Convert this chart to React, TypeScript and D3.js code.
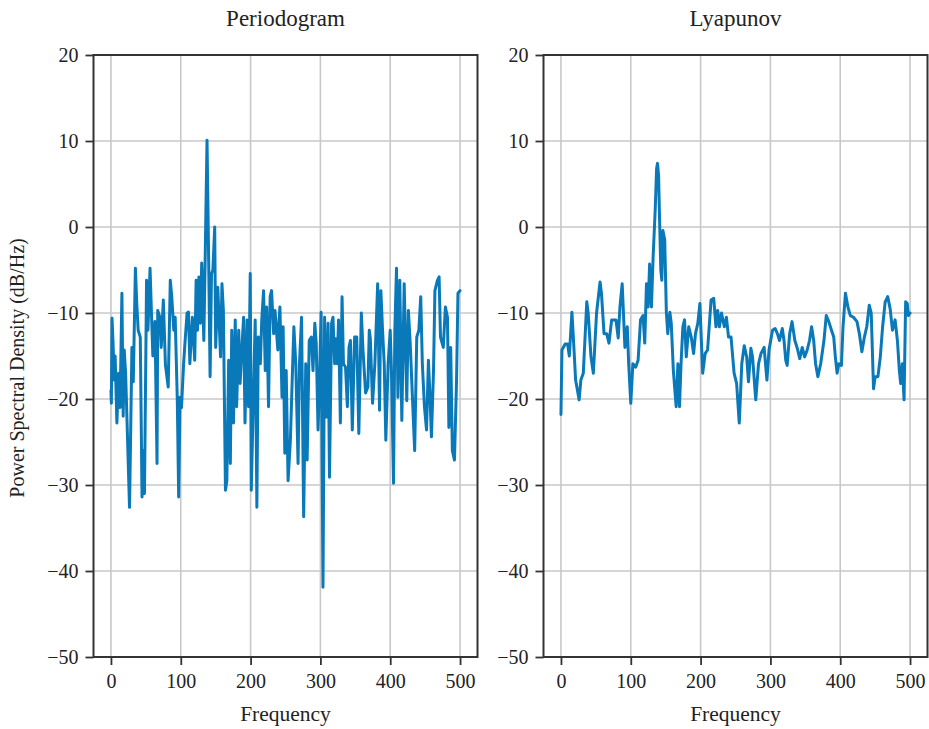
import React, { useEffect, useRef } from "react";
import * as d3 from "d3";

// Periodogram
const periodogramFreq = [0,0.6,1.5,3,4.5,6,8.5,11,13,15.7,17.5,19,21,23,26.6,28,30,32,35,37,39,42,44.5,46,48,51,53,56,58,60,63,66,67,70,72,75,78,82,85,87,90,92,95,97,99,101,104,106,109,111,113,116.6,120,122,124,126,128,130,133,135,137.6,140,142,144,146,148.6,150,153,157,159,161,164,166,168.6,171,173,175.5,178,180,183,185,187.6,190,192,195,197,199.5,201,204,206.6,209,211,214,216,218.6,221,223,225.7,228,230,233,235,239,240,242,245,246.6,249,251,253.7,257,260,262,264.7,268,270,273,276,279,281,284,287,289.4,292,294,296.6,298,301,303.7,306,308.6,311,313,316,318,320.4,322,324,326,328.6,331,333,336,338.6,341,343,345.7,349,352,355,358.6,361,364.7,368,370,371.5,374.7,378,382,384.7,386.6,389,391.4,393.7,397,400,402,404.7,406.6,409,411,413.7,416.6,420,423.7,426,428.6,432,435,438,441,443.7,446,449,452,454.7,457,459,462,464,467.6,470,472,476,479,482,484,486.6,489,492,495,497,500];
const periodogramPsd = [-19,-20.5,-10.6,-13.5,-17.8,-15,-22.8,-17,-21,-7.7,-22,-14.3,-17,-22.5,-32.6,-25.2,-14,-18,-4.8,-9,-12,-12.8,-31.4,-26,-31,-6.2,-12,-4.8,-10,-15,-11,-27.5,-9.7,-10.5,-14,-8.5,-16,-18.6,-6.2,-8,-12,-10.5,-20,-31.4,-19.8,-21,-16,-13.5,-10,-9.9,-15.9,-10.5,-15.5,-6.2,-12,-5.8,-11.2,-4.2,-13.2,-3.5,10.1,-4.2,-17.4,-5.4,-5,0,-14,-7,-15.1,-6.6,-9.7,-30.6,-29.5,-15.5,-27.5,-12,-22.8,-10.8,-20.9,-12,-18.2,-14,-10.5,-22.8,-10.8,-20.9,-5.4,-30.6,-19.8,-10.8,-32.6,-12.8,-15.9,-10.8,-7.4,-16.7,-9.3,-20.9,-8.1,-7.4,-12.4,-9.7,-14.3,-12,-9.3,-19.8,-11.6,-26.3,-16.7,-29.5,-24.8,-16.7,-11.6,-15.9,-27.5,-15.9,-10.5,-33.7,-15.9,-27.1,-13.2,-12.8,-16.7,-11.2,-13.5,-23.6,-20,-9.9,-41.9,-10.5,-22.1,-11.2,-29.1,-11.2,-10.5,-15.9,-13,-15.9,-10.8,-22.8,-8.1,-15.9,-16.3,-20.9,-14,-13.2,-23.6,-12.8,-12.8,-24,-10,-14.3,-19.3,-18.6,-12,-13,-20.5,-15.9,-6.6,-21.3,-7.4,-12,-15.9,-24.8,-15.9,-12,-17.4,-29.8,-12,-4.8,-19.8,-6.2,-22.5,-6.6,-20.2,-9.7,-13.5,-20.2,-26,-12.8,-12,-8.1,-15.9,-20.9,-23.6,-15.5,-19.8,-24.4,-16.7,-7.4,-6.2,-5.8,-12.8,-14,-9.3,-10.5,-23.3,-14,-26,-27.1,-17.8,-7.7,-7.4];

// Lyapunov
const lyapunovFreq = [0,1.4,6,9.5,12,15.7,18,21,26,28.5,32,37,39,43,46.4,51,56,58,61.7,65.5,68.8,72.6,78.8,82,84.5,87.7,91.6,95,97,100,103,107,110.5,114,117.6,120,122.5,124.8,127,129.6,132,135,137,138.3,139.8,141.5,143,144.5,146,148.6,151,153,156,158,161,165,167.5,169.8,172,174.6,177,179.5,183,186.6,190,192.7,196,199,203,206.6,210,215,218.8,222,224.5,227,230,234,237,240,243.6,248,251.6,255.4,259,262.5,266,268.6,272,274.4,279,283,286.6,291,295,298,303,306.7,310,313,317,319.5,322,324,327.6,331,335,338.5,342,345.6,349,352.7,356,359,362,364.7,368,372,376.7,380,383.6,387.5,390.7,393,395.5,398,401.7,404,407.5,411,414.5,419,424,427.4,431,434.6,438,441.6,444.4,447.7,450,454,457.4,460.7,464.4,468,471.5,474.8,478.6,481.9,484.7,486.6,489,491.4,493.7,496,497.6,500];
const lyapunovPsd = [-21.8,-14.3,-13.6,-13.6,-15,-9.9,-13.2,-17.8,-20.1,-17.8,-17,-8.7,-10,-15.1,-17,-10,-6.4,-7.7,-12.4,-12.4,-13.5,-10.8,-10.8,-12.9,-9.3,-6.6,-14,-11.6,-15.9,-20.5,-15.9,-16.3,-15.5,-10.8,-10.3,-13.5,-6.6,-9.3,-4.3,-9.3,-3.5,2,6.8,7.4,6,0,-5,-6.2,-0.4,-1.5,-10,-12.4,-9.9,-11.2,-16.7,-20.9,-15.9,-20.9,-15.9,-11.6,-10.8,-15.1,-11.6,-12.8,-14.7,-12.4,-11.2,-8.9,-17,-14.7,-14.3,-8.5,-8.3,-11.6,-9.7,-11.6,-10,-11.6,-10.5,-12.8,-12.8,-17,-18.2,-22.8,-15.9,-13.8,-15.1,-18,-14.1,-15.1,-20.1,-15.9,-14.7,-14,-17.8,-14.3,-12,-11.8,-12.4,-13.2,-11.8,-13.2,-15.5,-16.1,-12.4,-11,-13.2,-14.1,-15.3,-14,-15.1,-14.3,-13.2,-11.6,-13.2,-15.9,-17.4,-15.9,-13.2,-10.3,-11,-12,-12.8,-15.1,-17,-15.9,-16.1,-11.6,-7.7,-9.3,-10.3,-10.5,-11,-12.4,-14.5,-12.8,-11.6,-9.1,-10,-18.8,-17.4,-17.4,-15.1,-11.6,-8.7,-8.1,-9.5,-12,-10.8,-13.2,-16.7,-18.2,-15.9,-20.1,-8.7,-8.9,-10.3,-10];

const xTicks = [0, 100, 200, 300, 400, 500];
const yTicks = [-50, -40, -30, -20, -10, 0, 10, 20];

const width = 929;
const height = 729;
const top = 55;
const bottom = 657;
const lineColor = "#0a79b9";
const font = "'Liberation Serif', 'DejaVu Serif', serif";

const panels = [
  { title: "Periodogram", freq: periodogramFreq, psd: periodogramPsd, x0: 93.5, x1: 477.5 },
  { title: "Lyapunov", freq: lyapunovFreq, psd: lyapunovPsd, x0: 543.5, x1: 927.5 },
];

const App = () => {
  const ref = useRef<SVGSVGElement>(null);

  useEffect(() => {
    const svg = d3.select(ref.current);
    svg.selectAll("*").remove();

    panels.forEach((p) => {
      const x = d3.scaleLinear().domain([-25, 525]).range([p.x0, p.x1]);
      const y = d3.scaleLinear().domain([-50, 20]).range([bottom, top]);
      const g = svg.append("g");

      // grid
      g.append("g")
        .selectAll("line")
        .data(xTicks)
        .join("line")
        .attr("x1", (d) => x(d))
        .attr("x2", (d) => x(d))
        .attr("y1", top)
        .attr("y2", bottom)
        .attr("stroke", "#c8c8c8")
        .attr("stroke-width", 1.6);
      g.append("g")
        .selectAll("line")
        .data(yTicks)
        .join("line")
        .attr("x1", p.x0)
        .attr("x2", p.x1)
        .attr("y1", (d) => y(d))
        .attr("y2", (d) => y(d))
        .attr("stroke", "#c8c8c8")
        .attr("stroke-width", 1.6);

      // series
      const line = d3
        .line<number>()
        .x((_, i) => x(p.freq[i]))
        .y((d) => y(d));
      g.append("path")
        .datum(p.psd)
        .attr("d", line)
        .attr("fill", "none")
        .attr("stroke", lineColor)
        .attr("stroke-width", 3)
        .attr("stroke-linejoin", "round")
        .attr("stroke-linecap", "round");

      // axes
      const xAxis = g
        .append("g")
        .attr("transform", `translate(0,${bottom})`)
        .call(d3.axisBottom(x).tickValues(xTicks).tickSize(8).tickSizeOuter(0).tickPadding(9));
      const yAxis = g
        .append("g")
        .attr("transform", `translate(${p.x0},0)`)
        .call(d3.axisLeft(y).tickValues(yTicks).tickSize(8).tickSizeOuter(0).tickPadding(7));
      [xAxis, yAxis].forEach((a) => {
        a.select(".domain").remove();
        a.selectAll(".tick line").attr("stroke", "#333").attr("stroke-width", 1.8);
        a.selectAll(".tick text")
          .attr("fill", "#222")
          .style("font-family", font)
          .style("font-size", "20px");
      });

      // spines
      g.append("rect")
        .attr("x", p.x0)
        .attr("y", top)
        .attr("width", p.x1 - p.x0)
        .attr("height", bottom - top)
        .attr("fill", "none")
        .attr("stroke", "#333")
        .attr("stroke-width", 2);

      g.append("text")
        .attr("x", (p.x0 + p.x1) / 2)
        .attr("y", 26)
        .attr("text-anchor", "middle")
        .attr("fill", "#222")
        .style("font-family", font)
        .style("font-size", "23px")
        .text(p.title);

      g.append("text")
        .attr("x", (p.x0 + p.x1) / 2)
        .attr("y", 721)
        .attr("text-anchor", "middle")
        .attr("fill", "#222")
        .style("font-family", font)
        .style("font-size", "21.5px")
        .text("Frequency");
    });

    svg
      .append("text")
      .attr("transform", `translate(24,${(top + bottom) / 2 + 12}) rotate(-90)`)
      .attr("text-anchor", "middle")
      .attr("fill", "#222")
      .style("font-family", font)
      .style("font-size", "20px")
      .text("Power Spectral Density (dB/Hz)");
  }, []);

  return (
    <svg
      ref={ref}
      width={width}
      height={height}
      style={{ position: "absolute", left: 0, top: 0, background: "#fff" }}
    />
  );
};

export default App;
